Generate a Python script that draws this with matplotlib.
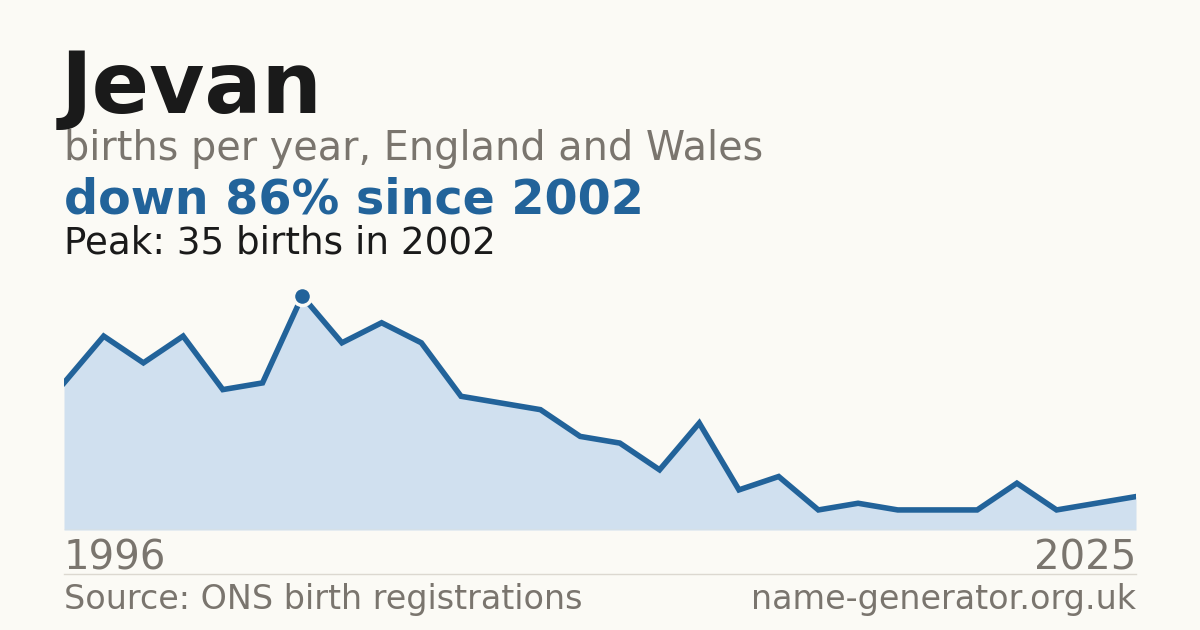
import matplotlib
matplotlib.use("Agg")
import matplotlib.pyplot as plt

# births per year
years = list(range(1996, 2024))
births = [22, 29, 25, 29, 21, 22, 35, 28, 31, 28, 20, 19, 18, 14, 13, 9,
          16, 6, 8, 3, 4, 3, 3, 3, 7, 3, 4, 5]
end_labels = ["1996", "2025"]
peak_year = 2002
peak_value = 35

BG = "#fbfaf5"
BLUE = "#22639a"
FILL = "#d0e0ef"
GREY = "#7a756e"
DARK = "#1a1a1a"

W, H = 1200, 630
fig = plt.figure(figsize=(W / 100, H / 100), dpi=100, facecolor=BG)


def px(x, y):
    # pixel coords from top-left -> figure fraction
    return x / W, 1 - y / H


# chart area
left, right, top, bottom = 64, 1136, 296, 530
ax = fig.add_axes([left / W, 1 - bottom / H, (right - left) / W, (bottom - top) / H])
ax.set_facecolor("none")
ax.fill_between(years, births, 0, color=FILL, lw=0)
ax.plot(years, births, color=BLUE, lw=4, solid_joinstyle="miter")
ax.plot([peak_year], [peak_value], "o", ms=13, color=BLUE, mec=BG, mew=2.5, clip_on=False, zorder=5)
ax.axhline(0, color="#e8e0d0", lw=1)
ax.set_xlim(years[0], years[-1])
ax.set_ylim(0, peak_value)
ax.axis("off")

fig.text(*px(61, 113), "Jevan", fontsize=61, fontweight="bold", color=DARK, va="baseline")
fig.text(*px(64, 160), "births per year, England and Wales", fontsize=28.6, color=GREY, va="baseline")
fig.text(*px(64, 214), "down 86% since 2002", fontsize=34.3, fontweight="bold", color=BLUE, va="baseline")
fig.text(*px(64, 254), "Peak: 35 births in 2002", fontsize=26.8, color=DARK, va="baseline")

fig.text(*px(64, 569), end_labels[0], fontsize=29, color=GREY, va="baseline")
fig.text(*px(1136, 569), end_labels[1], fontsize=29, color=GREY, va="baseline", ha="right")

fig.add_artist(plt.Line2D([left / W, right / W], [1 - 574 / H] * 2, color="#dcd8d0", lw=1))

fig.text(*px(64, 609), "Source: ONS birth registrations", fontsize=24, color=GREY, va="baseline")
fig.text(*px(1136, 609), "name-generator.org.uk", fontsize=24, color=GREY, va="baseline", ha="right")

fig.savefig("out.png", dpi=100, facecolor=BG)
